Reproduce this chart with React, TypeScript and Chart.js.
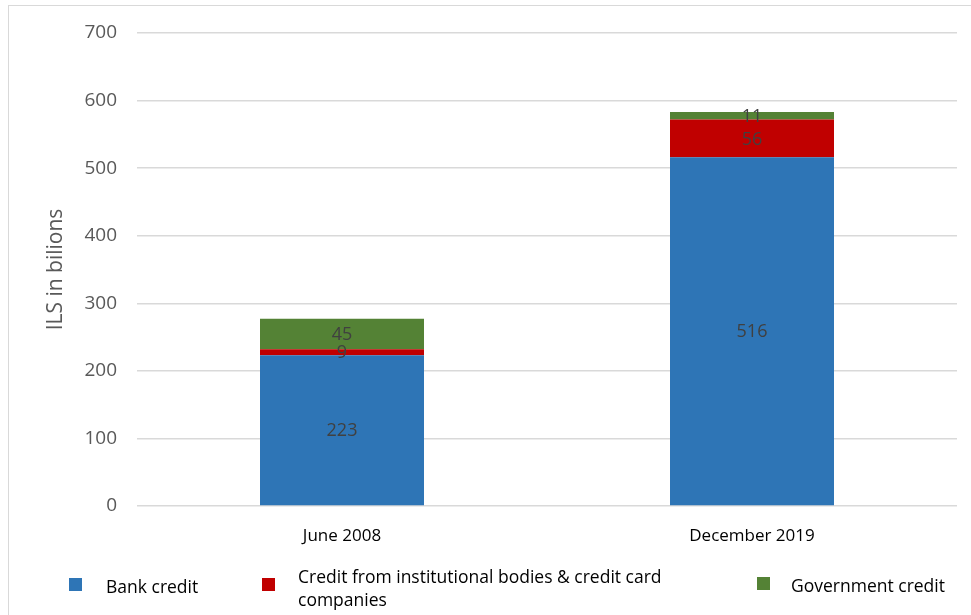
import React, { useEffect, useRef } from "react";
import { Chart, registerables } from "chart.js";

Chart.register(...registerables);

const categories = ["June 2008", "December 2019"];
const bankCredit = [223, 516];
const institutionalCredit = [9, 56];
const governmentCredit = [45, 11];
const seriesNames = [
  "Bank credit",
  "Credit from institutional bodies & credit card companies",
  "Government credit",
];
const seriesColors = ["#2E75B6", "#C00000", "#548235"];
const yTicks = { min: 0, max: 700, step: 100 };
const yTitle = "ILS in bilions";

const FONT = "'Open Sans', 'Liberation Sans', sans-serif";

const labelPlugin = {
  id: "segLabels",
  afterDatasetsDraw(chart: any) {
    const ctx = chart.ctx;
    ctx.save();
    ctx.font = `18px ${FONT}`;
    ctx.fillStyle = "#404040";
    ctx.textAlign = "center";
    ctx.textBaseline = "middle";
    chart.data.datasets.forEach((ds: any, di: number) => {
      const meta = chart.getDatasetMeta(di);
      meta.data.forEach((el: any, i: number) => {
        const v = ds.data[i];
        ctx.fillText(String(v), el.x, (el.y + el.base) / 2 + 1);
      });
    });
    // y-axis title
    const area = chart.chartArea;
    ctx.translate(56, (area.top + area.bottom) / 2);
    ctx.rotate(-Math.PI / 2);
    ctx.font = `21px ${FONT}`;
    ctx.fillStyle = "#595959";
    ctx.fillText(yTitle, 0, 0);
    ctx.restore();
  },
};

export default function App() {
  const ref = useRef<HTMLCanvasElement>(null);
  useEffect(() => {
    const chart = new Chart(ref.current!, {
      type: "bar",
      data: {
        labels: categories,
        datasets: [bankCredit, institutionalCredit, governmentCredit].map((d, i) => ({
          label: seriesNames[i],
          data: d,
          backgroundColor: seriesColors[i],
          borderWidth: 0,
          categoryPercentage: 1,
          barPercentage: 0.4,
        })),
      },
      options: {
        animation: false,
        responsive: false,
        maintainAspectRatio: false,
        layout: { padding: { top: 33, right: 14, left: 0, bottom: 0 } },
        plugins: { legend: { display: false }, tooltip: { enabled: false } },
        scales: {
          x: {
            stacked: true,
            grid: { display: false },
            border: { display: false },
            ticks: { color: "#000", font: { family: FONT, size: 17 }, padding: 12 },
            afterFit: (s: any) => {
              s.height = 109;
            },
          },
          y: {
            stacked: true,
            min: yTicks.min,
            max: yTicks.max,
            ticks: {
              stepSize: yTicks.step,
              color: "#595959",
              font: { family: FONT, size: 19 },
              padding: 20,
            },
            grid: { color: "#d9d9d9", drawTicks: false, lineWidth: 1.5 },
            border: { display: false },
            title: { display: false },
            afterFit: (s: any) => {
              s.width = 137;
            },
          },
        },
      },
      plugins: [labelPlugin],
    });
    return () => chart.destroy();
  }, []);

  const legendText: React.CSSProperties = {
    position: "absolute",
    fontFamily: FONT,
    fontSize: 17.5,
    color: "#000",
    lineHeight: "23px",
    whiteSpace: "nowrap",
  };
  const sq = (left: number, top: number, color: string): React.CSSProperties => ({
    position: "absolute",
    left,
    top,
    width: 13,
    height: 13,
    background: color,
  });

  return (
    <div style={{ position: "fixed", left: 0, top: 0, width: 971, height: 615, background: "#fff", overflow: "hidden" }}>
      <div
        style={{
          position: "absolute",
          left: 8,
          top: 5,
          width: 1000,
          height: 700,
          border: "1px solid #d9d9d9",
        }}
      />
      <canvas ref={ref} width={971} height={615} style={{ position: "absolute", left: 0, top: 0, width: 971, height: 615 }} />
      <div style={sq(69, 578, seriesColors[0])} />
      <div style={{ ...legendText, left: 106, top: 575 }}>{seriesNames[0]}</div>
      <div style={sq(262, 578, seriesColors[1])} />
      <div style={{ ...legendText, left: 298, top: 565 }}>
        Credit from institutional bodies &amp; credit card
        <br />
        companies
      </div>
      <div style={sq(757, 577, seriesColors[2])} />
      <div style={{ ...legendText, left: 791, top: 574 }}>{seriesNames[2]}</div>
    </div>
  );
}
